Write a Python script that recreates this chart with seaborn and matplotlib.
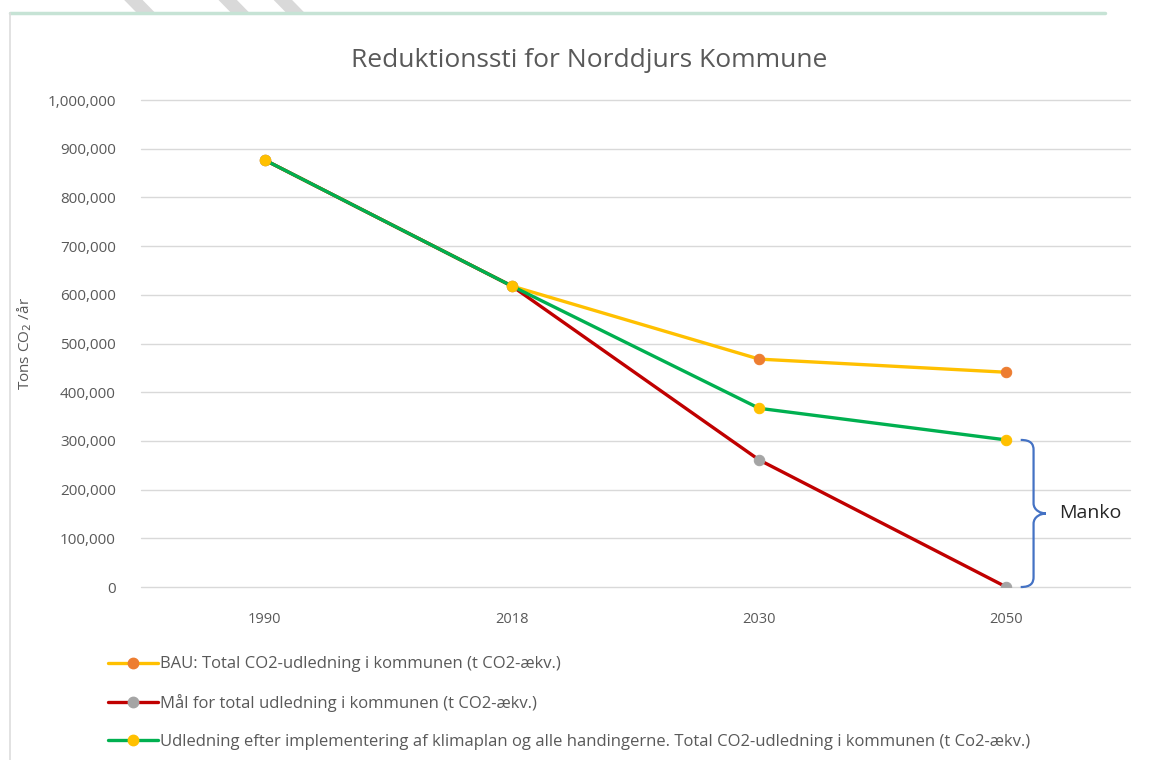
# Reduktionssti for Norddjurs Kommune - line chart
import pandas as pd
import matplotlib.pyplot as plt
import seaborn as sns
from matplotlib.path import Path
from matplotlib.patches import PathPatch, Polygon
from matplotlib.lines import Line2D
from matplotlib.ticker import FuncFormatter

# Data
years = ["1990", "2018", "2030", "2050"]
bau = [877000, 618000, 468000, 441000]
maal = [877000, 618000, 261000, 0]
klimaplan = [877000, 618000, 367000, 302000]

labels = [
    "BAU: Total CO2-udledning i kommunen (t CO2-ækv.)",
    "Mål for total udledning i kommunen (t CO2-ækv.)",
    "Udledning efter implementering af klimaplan og alle handingerne. Total CO2-udledning i kommunen (t Co2-ækv.)",
]

sns.set_theme(style="white")
plt.rcParams["font.family"] = ["Open Sans", "DejaVu Sans"]
grey_text = "#595959"

fig = plt.figure(figsize=(11.5, 7.6), dpi=100)
ax = fig.add_axes([0.1226, 0.2276, 0.86, 0.6408])

# series: (values, line colour, marker colour)
series = [
    (bau, "#FFC000", "#ED7D31"),
    (maal, "#C00000", "#A5A5A5"),
    (klimaplan, "#00B050", "#FFC000"),
]

handles = []
for (vals, lc, mc), lab in zip(series, labels):
    df = pd.DataFrame({"year": years, "value": vals})
    sns.lineplot(data=df, x="year", y="value", ax=ax, sort=False,
                 color=lc, linewidth=2.4, marker="o", markersize=7.5,
                 markerfacecolor=mc, markeredgecolor=mc, label=lab)
    handles.append(Line2D([0], [0], color=lc, lw=2.4, marker="o",
                          markersize=7.5, markerfacecolor=mc, markeredgecolor=mc))

ax.set_xlim(-0.5, len(years) - 0.5)
ax.set_ylim(0, 1000000)
ax.set_yticks(range(0, 1000001, 100000))
ax.yaxis.set_major_formatter(FuncFormatter(lambda v, p: f"{int(v):,}"))
ax.grid(axis="y", color="#D9D9D9", linewidth=1, zorder=0)
ax.grid(axis="x", visible=False)
ax.set_axisbelow(True)
for gl in ax.get_ygridlines():
    gl.set_clip_on(False)
for s in ax.spines.values():
    s.set_visible(False)
ax.tick_params(axis="both", length=0, labelsize=10.5, labelcolor=grey_text)
ax.tick_params(axis="y", labelsize=11, pad=18)
ax.tick_params(axis="x", pad=18)
ax.set_xlabel("")
ax.set_ylabel("Tons CO$_2$ /år", fontsize=11, color=grey_text)
ax.yaxis.set_label_coords(-0.108, 0.5)
ax.get_legend().remove()

fig.text(0.512, 0.921, "Reduktionssti for Norddjurs Kommune", ha="center", va="center",
         fontsize=19, color=grey_text)

# curly brace "Manko" between the 2050 values of the plan and the target
top, bot = klimaplan[-1], maal[-1]
mid = (top + bot) / 2
x0 = len(years) - 1
xa, xb, xt = x0 + 0.058, x0 + 0.11, x0 + 0.16
r = 0.07 * (top - bot)
verts = [
    (xa, top), (xb - 0.01, top), (xb, top - r * 0.4), (xb, top - r),
    (xb, mid + r),
    (xb, mid + r * 0.3), (xt - 0.02, mid), (xt, mid),
    (xt - 0.02, mid), (xb, mid - r * 0.3), (xb, mid - r),
    (xb, bot + r),
    (xb, bot + r * 0.4), (xb - 0.01, bot), (xa, bot),
]
codes = [Path.MOVETO, Path.CURVE4, Path.CURVE4, Path.CURVE4,
         Path.LINETO,
         Path.CURVE4, Path.CURVE4, Path.CURVE4,
         Path.CURVE4, Path.CURVE4, Path.CURVE4,
         Path.LINETO,
         Path.CURVE4, Path.CURVE4, Path.CURVE4]
ax.add_patch(PathPatch(Path(verts, codes), facecolor="none", edgecolor="#4472C4",
                       linewidth=1.6, clip_on=False))
ax.text(x0 + 0.215, mid, "Manko", fontsize=14, color="#262626", va="center", ha="left")

# legend below the chart
fig.legend(handles, labels, loc="upper left", bbox_to_anchor=(0.088, 0.145),
           frameon=False, fontsize=12, labelcolor=grey_text, handlelength=3.0,
           handletextpad=0.1, labelspacing=1.3, borderaxespad=0)

# frame of the pasted chart and the grey stripes above it
fig.add_artist(Line2D([0.009, 0.961], [0.983, 0.983], color="#C6E3D5", lw=2.5))
fig.add_artist(Line2D([0.009, 0.009], [0.0, 0.983], color="#DDDDDD", lw=1.2))
for xs in (0.108, 0.19, 0.238):
    fig.add_artist(Polygon([(xs, 1.0), (xs + 0.016, 1.0), (xs + 0.027, 0.983), (xs + 0.011, 0.983)],
                           closed=True, facecolor="#D9D9D9", edgecolor="none"))

fig.savefig("out.png", dpi=100)
